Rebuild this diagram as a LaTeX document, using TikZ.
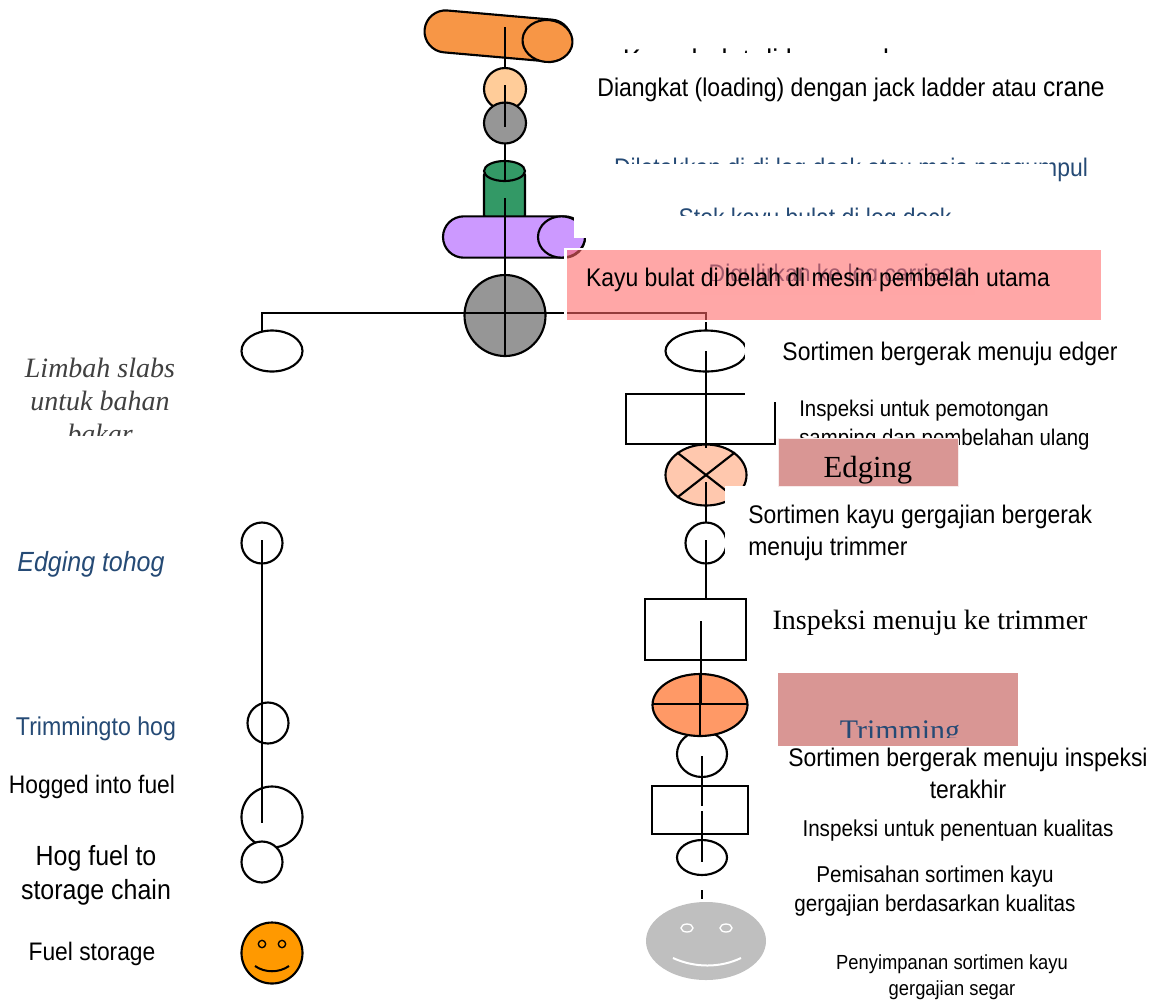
\documentclass[tikz,border=0pt]{standalone}
\usepackage{fontspec}
\setmainfont[FakeStretch=0.9]{Liberation Sans}
\newfontfamily\timesface{Liberation Serif}
\usetikzlibrary{shapes.geometric,shapes.misc}
\definecolor{logorange}{HTML}{F79646}
\definecolor{peach}{HTML}{FFCC99}
\definecolor{stopgrey}{HTML}{969696}
\definecolor{deckgreen}{HTML}{339966}
\definecolor{logpurple}{HTML}{CC99FF}
\definecolor{edgepeach}{HTML}{FFC8AE}
\definecolor{trimorange}{HTML}{FF9966}
\definecolor{boxrose}{HTML}{D99694}
\definecolor{redpink}{HTML}{FF6767}
\definecolor{smilegrey}{HTML}{BFBFBF}
\definecolor{navy}{HTML}{254A75}
\newcommand{\fz}[2]{\fontsize{#1}{#2}\selectfont}
\tikzset{
  flowline/.style={-,line width=1.6pt},
  stopnode/.style={ellipse,draw,line width=1.6pt,inner sep=0pt},
  boxnode/.style={rectangle,draw,line width=1.6pt,fill=white,inner sep=0pt},
  roundlog/.style={rounded rectangle,draw,line width=1.6pt,inner sep=0pt},
  wipe/.style={fill=white,draw=none},
  caption/.style={inner sep=0pt,align=center}
}
\begin{document}
\begin{tikzpicture}[x=0.75pt,y=-0.75pt]
\useasboundingbox (0,0) rectangle (1153,1001);
%% logs and cylinder
\node (orangelog) at (498,36) [roundlog,fill=logorange,minimum width=110.5pt,minimum height=31.5pt,rotate=-5] {};
\node (orangeend) at (547.5,41) [stopnode,fill=logorange,minimum width=37.5pt,minimum height=31.5pt,rotate=-5] {};
\draw[line width=1.6pt,fill=deckgreen,rounded corners=3pt] (484,171) -- (484,219) -- (525,219) -- (525,171) -- cycle;
\node (deckcap) at (504.5,171) [stopnode,fill=deckgreen,minimum width=30.75pt,minimum height=15pt] {};
\node (purplelog) at (514,237) [roundlog,fill=logpurple,minimum width=106.5pt,minimum height=31pt] {};
\node (purpleend) at (561.5,237) [stopnode,fill=logpurple,minimum width=35.25pt,minimum height=31pt] {};
%% nodes or vertices
\foreach \nodename/\colr/\x/\y/\w/\h in {peachstop/peach/505/89/42/42, greystop/stopgrey/505/123/42/41,
  splitsaw/stopgrey/505/315.5/81/81, leftoval/white/272/351/61/41, rightoval/white/706/351/81/41,
  edgesaw/edgepeach/706/475/81/61, tohogstop/white/262/543/41/41, trimstop/white/706/543/41/41,
  trimtohog/white/268/723/41/41, hogger/white/272/817/61/61, chainstop/white/262/862/41/41,
  movestop/white/702/754/50/46, sortstop/white/702/857.5/50/35} {
  \node (\nodename) at (\x,\y) [stopnode,fill=\colr,minimum width=\w*0.75pt,minimum height=\h*0.75pt] {};
}
\node (edgebox) at (700.5,419) [boxnode,minimum width=111.75pt,minimum height=37pt] {};
\node (trimbox) at (695.5,629.5) [boxnode,minimum width=75.75pt,minimum height=45.75pt] {};
\node (gradebox) at (700,810) [boxnode,minimum width=72pt,minimum height=35.6pt] {};
\node (trimsaw) at (700,705) [stopnode,fill=trimorange,minimum width=71.25pt,minimum height=46.5pt] {};
%% storage faces
\node (fuelstore) at (272,953) [stopnode,fill=orange!80!yellow,minimum width=45.75pt,minimum height=45.75pt] {};
\foreach \nodename/\x in {fueleyea/262, fueleyeb/282} {
  \node (\nodename) at (\x,944) [stopnode,line width=1pt,minimum width=5.5pt,minimum height=5.5pt] {};
}
\node (woodstore) at (706,941) [ellipse,fill=smilegrey,inner sep=0pt,minimum width=90pt,minimum height=58.5pt] {};
\foreach \nodename/\x in {woodeyea/687, woodeyeb/726} {
  \node (\nodename) at (\x,928) [ellipse,draw=white,fill=smilegrey,line width=1pt,inner sep=0pt,minimum width=9pt,minimum height=6pt] {};
}
\draw[line width=1.5pt] (255,966) .. controls (265,973) and (279,973) .. (289,966);
\draw[white,line width=1.5pt] (673,958) .. controls (695,968) and (720,968) .. (741,958);
%% edges or lines
\foreach \nodename/\x/\y in {a/505/27, b/505/67, c/505/85, d/505/127, e/505/143, f/505/180, g/505/198, h/505/356,
  i/262/331, j/262/313, k/706/313, l/706/331, m/706/351, n/706/448, o/706/482, p/706/522, q/706/540, r/706/599,
  s/701/621, t/701/705, u/702/756, v/702/805.5, w/702/811, x/702/861.5, y/702/890, z/702/899,
  aa/262/540, ab/262/823, ac/652/704, ad/748/704, ae/700/674, af/700/736} {
  \coordinate (\nodename) at (\x,\y);
}
\path
\foreach \startnode/\endnode in {a/b, c/d, e/f, g/h, m/n, o/p, q/r, s/t, u/v, w/x, y/z, aa/ab, ac/ad, ae/af,
  edgesaw.38/edgesaw.218, edgesaw.142/edgesaw.322} {
  (\startnode) edge[flowline] (\endnode)
};
\draw[flowline] (i) -- (j) -- (k) -- (l);
%% texts that are partly covered
\node (tipa) at (756,63) [caption,font=\fz{22.4}{24}] {Kayu bulat di log pond};
\node (tipb) at (851,170) [caption,text=navy,font=\fz{19.1}{20}] {Diletakkan di di log deck atau meja pengumpul};
\node (tipc) at (815,220) [caption,text=navy,font=\fz{19.1}{20}] {Stok kayu bulat di log deck};
\node (tipd) at (838,276) [caption,text=navy,font=\fz{19.1}{20}] {Digulirkan ke log carriage};
\node (tipe) at (100,401) [caption,text=black!75,font=\timesface\itshape\fz{21}{24.7}] {Limbah slabs\\untuk bahan\\bakar};
\node (tipf) at (799,425) [caption,anchor=west,align=left,font=\fz{17}{21.7}] {Inspeksi untuk pemotongan\\samping dan pembelahan ulang};
%% white patches
\fill[wipe] (610,53) rectangle (900,78);
\fill[wipe] (610,164) rectangle (1050,186);
\fill[wipe] (670,216) rectangle (960,240);
\fill[wipe] (700,281) rectangle (975,295);
\fill[wipe] (10,436) rectangle (190,460);
\fill[wipe] (574,212) rectangle (592,238);
\fill[wipe] (745,323) rectangle (782,402);
\fill[wipe] (725,486) rectangle (747,575);
%% coloured boxes
\node (splitband) at (834,285) [rectangle,draw=white,line width=2pt,fill=redpink,fill opacity=.58,minimum width=402.75pt,minimum height=54pt,inner sep=0pt] {};
\node (edgeband) at (868,462) [rectangle,draw=white!80!boxrose,line width=.6pt,fill=boxrose,minimum width=135pt,minimum height=36pt,inner sep=0pt] {};
\node (trimband) at (898,709.5) [rectangle,fill=boxrose,minimum width=180pt,minimum height=54.75pt,inner sep=0pt] {};
\begin{scope}
\clip (778,700) rectangle (1018,737);
\node (trimword) at (900,734) [caption,text=navy,font=\timesface\fz{22.4}{24}] {Trimming};
\end{scope}
%% remaining texts
\node (loading) at (851,90) [caption,font=\fz{19.2}{20}] {Diangkat (loading) dengan jack ladder atau {\fz{20.5}{20}crane}};
\node (splitting) at (818,280) [caption,font=\fz{19.1}{20}] {Kayu bulat di belah di mesin pembelah utama};
\node (toedger) at (950,354) [caption,font=\fz{19.1}{20}] {Sortimen bergerak menuju edger};
\node (edgeword) at (868,470) [caption,font=\timesface\fz{23}{24}] {Edging};
\node (totrimmer) at (748,533) [caption,anchor=west,align=left,font=\fz{19.1}{24}] {Sortimen kayu gergajian bergerak\\menuju trimmer};
\node (inspecttrim) at (930,623) [caption,font=\timesface\fz{21}{24}] {Inspeksi menuju ke trimmer};
\node (toinspect) at (968,773) [caption,font=\fz{19.1}{24}] {Sortimen bergerak menuju inspeksi\\terakhir};
\node (grading) at (958,831) [caption,font=\fz{17.2}{20}] {Inspeksi untuk penentuan kualitas};
\node (sorting) at (935,891) [caption,font=\fz{17.2}{21.7}] {Pemisahan sortimen kayu\\gergajian berdasarkan kualitas};
\node (storing) at (952,977) [caption,font=\fz{15.3}{19.5}] {Penyimpanan sortimen kayu\\gergajian segar};
\node (edgetohog) at (91,564) [caption,text=navy,font=\itshape\fz{20.8}{24}] {Edging tohog};
\node (trimhog) at (96,729) [caption,text=navy,font=\fz{19.3}{22}] {Trimmingto hog};
\node (hogged) at (92,787) [caption,font=\fz{19}{20}] {Hogged into fuel};
\node (hogchain) at (96,875) [caption,font=\fz{20.8}{25.5}] {Hog fuel to\\storage chain};
\node (fuelword) at (92,954) [caption,font=\fz{19}{20}] {Fuel storage};
\end{tikzpicture}
\end{document}
